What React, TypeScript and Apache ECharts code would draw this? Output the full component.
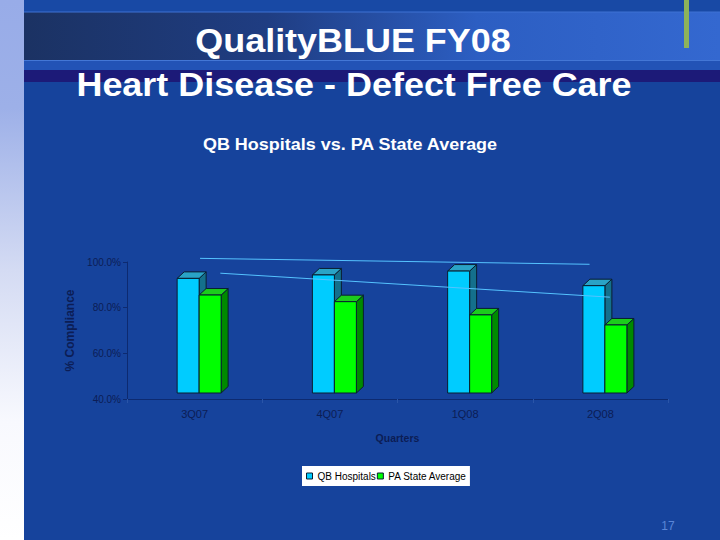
import React, { useEffect, useRef } from "react";
import * as echarts from "echarts";

const categories = ["3Q07", "4Q07", "1Q08", "2Q08"];
const qbHospitals = [90.2, 91.7, 93.4, 87.0];
const paStateAverage = [82.9, 80.0, 74.2, 69.8];
const yMin = 40;
const yMax = 100;
const yInterval = 20;
// trend lines: [category position, % value]
const qbTrend = [
  [0.04, 101.6],
  [2.92, 99.0],
];
const paTrend = [
  [0.19, 95.1],
  [3.07, 84.6],
];

const BAR_W = 22;
const SHIFT_X = 4.5;
const SHIFT_Y = -6;
const DX = 7;
const DY = -6.5;
const FONT = "'Liberation Sans', Arial, sans-serif";

function makeRender(leftSide: boolean, front: string, top: string, side: string) {
  return (params: any, api: any) => {
    const t = api.coord([api.value(0), api.value(1)]);
    const b = api.coord([api.value(0), yMin]);
    const x0 = t[0] + SHIFT_X + (leftSide ? -BAR_W : 0);
    const x1 = x0 + BAR_W;
    const yT = t[1] + SHIFT_Y;
    const yB = b[1] + SHIFT_Y;
    const stroke = "#0a1e30";
    return {
      type: "group",
      children: [
        {
          type: "polygon",
          shape: { points: [[x1, yT], [x1 + DX, yT + DY], [x1 + DX, yB + DY], [x1, yB]] },
          style: { fill: side, stroke, lineWidth: 1 },
        },
        {
          type: "polygon",
          shape: { points: [[x0, yT], [x0 + DX, yT + DY], [x1 + DX, yT + DY], [x1, yT]] },
          style: { fill: top, stroke, lineWidth: 1 },
        },
        {
          type: "rect",
          shape: { x: x0, y: yT, width: BAR_W, height: yB - yT },
          style: { fill: front, stroke, lineWidth: 1 },
        },
      ],
    };
  };
}

export default function App() {
  const ref = useRef<HTMLDivElement>(null);
  useEffect(() => {
    if (!ref.current) return;
    const chart = echarts.init(ref.current, null, { renderer: "svg" });
    const navy = "#0c1d55";
    const option: any = {
      animation: false,
      backgroundColor: "#16439c",
      graphic: [
        {
          type: "rect",
          shape: { x: 0, y: 0, width: 24, height: 540 },
          style: {
            fill: new echarts.graphic.LinearGradient(0, 0, 0, 1, [
              { offset: 0, color: "#98ace8" },
              { offset: 0.2, color: "#9db0e8" },
              { offset: 0.5, color: "#d4dbf3" },
              { offset: 0.78, color: "#f8f9fe" },
              { offset: 1, color: "#ffffff" },
            ]),
          },
          silent: true,
        },
        { type: "rect", shape: { x: 24, y: 0, width: 696, height: 12 }, style: { fill: "#1849a5" }, silent: true },
        {
          type: "rect", shape: { x: 24, y: 12, width: 696, height: 48 },
          style: {
            fill: new echarts.graphic.LinearGradient(0, 0, 1, 0, [
              { offset: 0, color: "#1b3263" },
              { offset: 0.35, color: "#1f3d82" },
              { offset: 0.65, color: "#2c5ec2" },
              { offset: 1, color: "#3468d0" },
            ]),
          }, silent: true,
        },
        { type: "rect", shape: { x: 24, y: 11.5, width: 696, height: 1 }, style: { fill: "#3f72d4" }, silent: true },
        { type: "rect", shape: { x: 24, y: 60, width: 696, height: 10 }, style: { fill: "#2253b6" }, silent: true },
        { type: "rect", shape: { x: 24, y: 60, width: 696, height: 1 }, style: { fill: "#4377d6" }, silent: true },
        { type: "rect", shape: { x: 24, y: 70, width: 696, height: 12 }, style: { fill: "#1c1a78" }, silent: true },
        { type: "rect", shape: { x: 684, y: 0, width: 5, height: 48 }, style: { fill: "#8db35a" }, silent: true },
        {
          type: "text", x: 353, y: 40, scaleX: 1.057,
          style: { text: "QualityBLUE FY08", fill: "#ffffff", font: `bold 34px ${FONT}`, align: "center", verticalAlign: "middle" },
        },
        {
          type: "text", x: 354, y: 84, scaleX: 1.057,
          style: { text: "Heart Disease - Defect Free Care", fill: "#ffffff", font: `bold 34px ${FONT}`, align: "center", verticalAlign: "middle" },
        },
        {
          type: "text", x: 350, y: 144, scaleX: 1.057,
          style: { text: "QB Hospitals vs. PA State Average", fill: "#ffffff", font: `bold 17px ${FONT}`, align: "center", verticalAlign: "middle" },
        },
        {
          type: "text", x: 668, y: 526,
          style: { text: "17", fill: "#5a86d8", font: `12px ${FONT}`, align: "center", verticalAlign: "middle" },
        },
      ],
      legend: {
        left: 302,
        top: 466,
        padding: [5, 3, 5, 4],
        itemWidth: 6,
        itemHeight: 6,
        itemGap: 1,
        backgroundColor: "#ffffff",
        icon: "rect",
        textStyle: { fontSize: 10, color: "#000000", fontFamily: FONT },
        data: [
          { name: "QB Hospitals", itemStyle: { color: "#00ccff", borderColor: "#0a1e30", borderWidth: 1 } },
          { name: "PA State Average", itemStyle: { color: "#00ff00", borderColor: "#0a1e30", borderWidth: 1 } },
        ],
      },
      grid: { left: 127, right: 52, top: 262, bottom: 141 },
      xAxis: [
        {
          type: "category",
          data: categories,
          boundaryGap: true,
          position: "bottom",
          name: "Quarters",
          nameLocation: "middle",
          nameGap: 33,
          nameTextStyle: { color: navy, fontSize: 10.5, fontWeight: "bold", fontFamily: FONT },
          axisLine: { onZero: false, lineStyle: { color: "#0d2a70" } },
          axisTick: { show: true, length: 4, lineStyle: { color: "#2a55a8" } },
          axisLabel: { color: navy, fontSize: 11, margin: 9, fontFamily: FONT },
          splitLine: { show: false },
        },
        {
          type: "value", min: -0.5, max: 3.5, show: false,
          axisLine: { show: false, onZero: false }, axisTick: { show: false }, axisLabel: { show: false }, splitLine: { show: false },
        },
      ],
      yAxis: {
        type: "value",
        position: "left",
        min: yMin,
        max: yMax,
        interval: yInterval,
        name: "% Compliance",
        nameLocation: "middle",
        nameRotate: 90,
        nameGap: 49,
        nameTextStyle: { color: navy, fontSize: 12, fontWeight: "bold", fontFamily: FONT },
        axisLine: { show: true, onZero: false, lineStyle: { color: "#0d2a70" } },
        axisTick: { show: true, length: 4, lineStyle: { color: "#0d2a70" } },
        axisLabel: { color: navy, fontSize: 10, margin: 6, formatter: (v: number) => v.toFixed(1) + "%", fontFamily: FONT },
        splitLine: { show: false },
      },
      series: [
        {
          name: "QB Hospitals",
          type: "custom",
          xAxisIndex: 0,
          itemStyle: { color: "#00ccff" },
          renderItem: makeRender(true, "#00ccff", "#2aa3c6", "#14708c"),
          encode: { x: 0, y: 1 },
          data: categories.map((_, i) => [i, qbHospitals[i]]),
          clip: false,
        },
        {
          name: "PA State Average",
          type: "custom",
          xAxisIndex: 0,
          itemStyle: { color: "#00ff00" },
          renderItem: makeRender(false, "#00ff00", "#1ccc1c", "#008a00"),
          encode: { x: 0, y: 1 },
          data: categories.map((_, i) => [i, paStateAverage[i]]),
          clip: false,
        },
        {
          name: "QB Trend",
          type: "line",
          xAxisIndex: 1,
          data: qbTrend,
          symbol: "none",
          clip: false,
          silent: true,
          lineStyle: { color: "#55c3ff", width: 1 },
        },
        {
          name: "PA Trend",
          type: "line",
          xAxisIndex: 1,
          data: paTrend,
          symbol: "none",
          clip: false,
          silent: true,
          lineStyle: { color: "#55c3ff", width: 1 },
        },
      ],
    };
    chart.setOption(option);
    return () => chart.dispose();
  }, []);
  return <div ref={ref} style={{ position: "fixed", left: 0, top: 0, width: 720, height: 540 }} />;
}
